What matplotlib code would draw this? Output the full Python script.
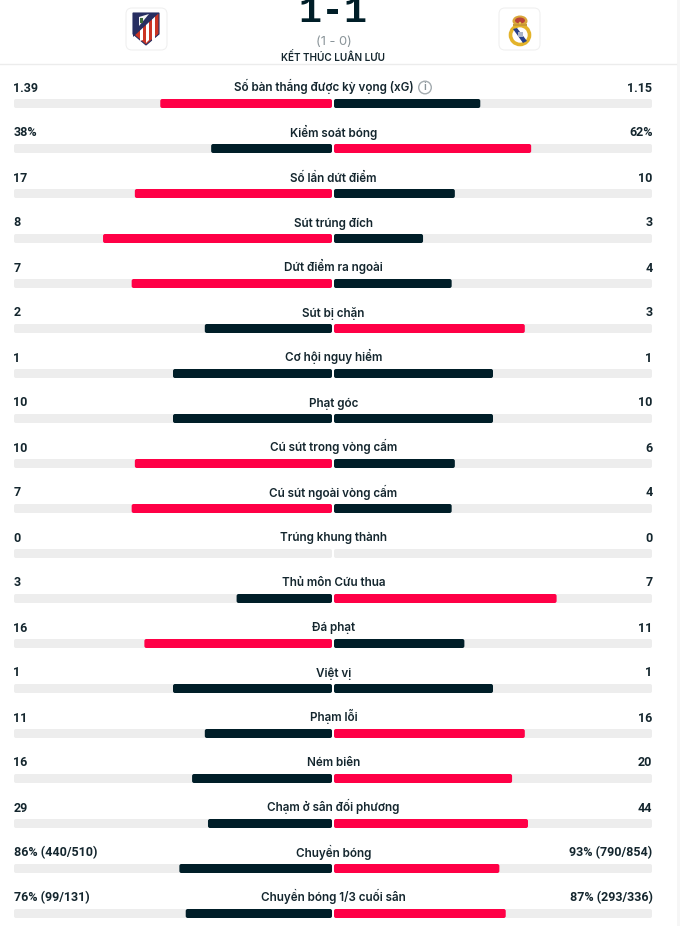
import matplotlib
matplotlib.use('Agg')
import matplotlib.pyplot as plt
from matplotlib.patches import FancyBboxPatch, Polygon, Circle, Rectangle, Ellipse

plt.rcParams['font.family'] = ['Inter', 'Noto Sans', 'DejaVu Sans']

# stat names and the labels as printed
stat_names = ['Số bàn thắng được kỳ vọng (xG)', 'Kiểm soát bóng', 'Số lần dứt điểm', 'Sút trúng đích',
              'Dứt điểm ra ngoài', 'Sút bị chặn', 'Cơ hội nguy hiểm', 'Phạt góc', 'Cú sút trong vòng cấm',
              'Cú sút ngoài vòng cấm', 'Trúng khung thành', 'Thủ môn Cứu thua', 'Đá phạt', 'Việt vị',
              'Phạm lỗi', 'Ném biên', 'Chạm ở sân đối phương', 'Chuyền bóng', 'Chuyền bóng 1/3 cuối sân']
left_labels = ['1.39', '38%', '17', '8', '7', '2', '1', '10', '10', '7', '0', '3', '16', '1', '11', '16', '29',
               '86% (440/510)', '76% (99/131)']
right_labels = ['1.15', '62%', '10', '3', '4', '3', '1', '10', '6', '4', '0', '7', '11', '1', '16', '20', '44',
                '93% (790/854)', '87% (293/336)']
# bar lengths, percent of the half track
left_share = [54, 38, 62, 72, 63, 40, 50, 50, 62, 63, 0, 30, 59, 50, 40, 44, 39, 48, 46]
right_share = [46, 62, 38, 28, 37, 60, 50, 50, 38, 37, 0, 70, 41, 50, 60, 56, 61, 52, 54]
# which side is highlighted: 'l', 'r' or '' for a tie
winner = ['l', 'r', 'l', 'l', 'l', 'r', '', '', 'l', 'l', '', 'r', 'l', '', 'r', 'r', 'r', 'r', 'r']

PINK = '#ff0046'
DARK = '#001e28'
TRACK = '#ededed'
TEXT = '#14262e'


def rounded(ax, x0, x1, y, h, color, r=2):
    ax.add_patch(FancyBboxPatch((x0 + r, y + r), x1 - x0 - 2 * r, h - 2 * r, boxstyle=f'round,pad={r},rounding_size={r}',
                                fc=color, ec='none', zorder=3))


fig = plt.figure(figsize=(6.8, 9.26), dpi=100)
ax = fig.add_axes([0, 0, 1, 1])
ax.set_xlim(0, 680)
ax.set_ylim(926, 0)
ax.axis('off')

# scrollbar strip on the right
ax.add_patch(Rectangle((677, 0), 3, 926, fc='#f6f6f6', ec='none'))

# header, score is cut by the top edge in the original too
ax.text(333, 22.5, '1-1', fontsize=27.6, fontweight='bold', family='Liberation Mono', color=DARK, ha='center', va='baseline')
ax.text(333.5, 42, '(1 - 0)', fontsize=9.3, color='#8a9499', ha='center', va='center')
ax.text(333, 57, 'KẾT THÚC LUÂN LƯU', fontsize=7.2, fontweight='semibold', color=TEXT, ha='center', va='center')
ax.plot([0, 676], [63.5, 63.5], color='#ececec', lw=1)

# crest boxes
for x0 in (126, 499):
    ax.add_patch(FancyBboxPatch((x0 + 6, 14), 29, 30, boxstyle='round,pad=6,rounding_size=6', fc='white',
                                ec='#f0f0f0', lw=0.8))

# atletico crest
ax.add_patch(Polygon([(133, 13), (159, 13), (159, 34), (146, 45), (133, 34)], fc='#cb3524', ec='#272e61', lw=0.8, zorder=3))
for sx in (140, 146, 152):
    ax.add_patch(Polygon([(sx, 17), (sx + 3, 14), (sx + 3, 40), (sx, 43 if sx == 146 else 41)], fc='white', ec='none', zorder=4))
ax.add_patch(Polygon([(133, 13), (159, 13), (133, 37)], fc='#272e61', ec='none', zorder=5))
ax.add_patch(Polygon([(139, 17), (149, 14), (139, 26)], fc='#f4f4f4', ec='none', zorder=6))
ax.add_patch(Rectangle((140, 18), 2.5, 5, fc='#3a6a3a', ec='none', zorder=7))

# real madrid crest
ax.add_patch(Ellipse((520, 21), 15, 11, fc='#d9a63a', ec='none', zorder=3))
ax.add_patch(Ellipse((520, 20.5), 10, 6, fc='#b8423a', ec='none', zorder=4))
ax.add_patch(Circle((520, 23), 1.3, fc='#e3c34a', ec='none', zorder=5))
ax.add_patch(Rectangle((513, 24), 14, 2, fc='#c99a35', ec='none', zorder=4))
ax.add_patch(Circle((520, 35), 9.5, fc='white', ec='#e3b32a', lw=2.6, zorder=3))
ax.add_patch(Polygon([(513, 29), (517, 28), (527, 41), (523, 43)], fc='#27408b', ec='none', zorder=4))
ax.add_patch(Rectangle((518, 32), 5, 5, fc='#aab4c8', ec='none', zorder=5))

# stat rows
for i, name in enumerate(stat_names):
    text_y = 91.5 + 45 * i
    bar_y = 99 + 45 * i
    ax.text(13.5, text_y, left_labels[i], fontsize=9, fontweight='semibold', family='Roboto', color=TEXT, va='baseline', ha='left')
    ax.text(652.5, text_y, right_labels[i], fontsize=9, fontweight='semibold', family='Roboto', color=TEXT, va='baseline', ha='right')
    # the xG title shares its centre with the icon after it
    name_x = 324 if i == 0 else 333.5
    ax.text(name_x, text_y, name, fontsize=8.4, fontweight='semibold', color=TEXT, va='baseline', ha='center')

    rounded(ax, 14, 332, bar_y, 9, TRACK)
    rounded(ax, 334, 652, bar_y, 9, TRACK)

    if left_share[i] == 0:
        continue
    left_color = PINK if winner[i] == 'l' else DARK
    right_color = PINK if winner[i] == 'r' else DARK
    rounded(ax, 332 - 3.18 * left_share[i], 332, bar_y, 9, left_color)
    rounded(ax, 334, 334 + 3.18 * right_share[i], bar_y, 9, right_color)

# info icon next to xG
ax.add_patch(Circle((425, 87.5), 6.3, fc='white', ec='#a3abaf', lw=1))
ax.text(425, 87.5, 'i', fontsize=7.5, fontweight='semibold', color='#8a9499', ha='center', va='center')

fig.savefig('out.png', dpi=100)
